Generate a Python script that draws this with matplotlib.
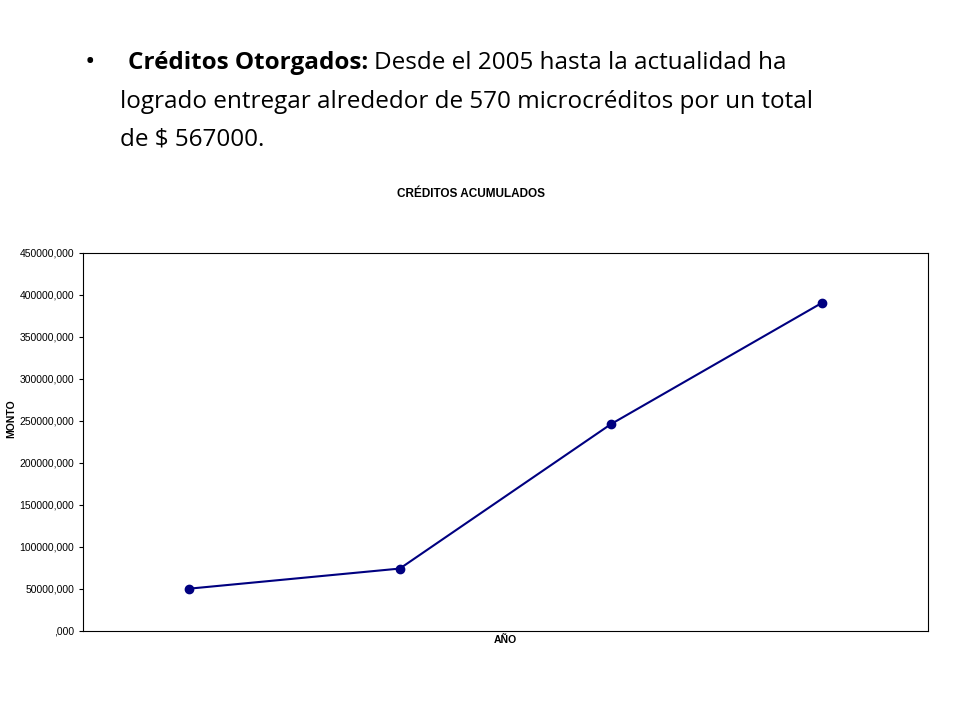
import matplotlib
matplotlib.use("Agg")
from matplotlib import pyplot as plt

# datos
anios = ["2005", "2006", "2007", "2008"]
montos = [50000, 74000, 246000, 390500]
y_ticks = [0, 50000, 100000, 150000, 200000, 250000, 300000, 350000, 400000, 450000]
y_labels = [",000"] + ["%d,000" % v for v in y_ticks[1:]]

fig = plt.figure(figsize=(9.6, 7.2), dpi=100)

# texto del encabezado
fig.text(0.088, 0.912, "\u2022", fontsize=20, family="Open Sans", va="center")
t_bold = fig.text(0.133, 0.912, "Créditos Otorgados:", fontsize=17.5, weight="bold",
                  family="Open Sans", va="center")
fig.canvas.draw()
bb = t_bold.get_window_extent().transformed(fig.transFigure.inverted())
fig.text(bb.x1 + 0.006, 0.912, "Desde el 2005 hasta la actualidad ha",
         fontsize=17.5, family="Open Sans", va="center")
fig.text(0.125, 0.859, "logrado entregar alrededor de 570 microcréditos por un total",
         fontsize=17.5, family="Open Sans", va="center")
fig.text(0.125, 0.806, "de $ 567000.", fontsize=17.5, family="Open Sans", va="center")

fig.text(0.491, 0.731, "CRÉDITOS ACUMULADOS", fontsize=8.5, weight="bold",
         family="Liberation Sans", ha="center", va="center")

ax = fig.add_axes([0.0865, 0.124, 0.880, 0.525])
x = list(range(len(anios)))
ax.plot(x, montos, color="#000080", marker="o", markersize=6, linewidth=1.5)
ax.set_xlim(-0.5, len(anios) - 0.5)
ax.set_ylim(0, 450000)
ax.set_xticks([])
ax.set_yticks(y_ticks)
ax.set_yticklabels(y_labels, fontsize=7.5, family="Liberation Sans")
ax.tick_params(axis="y", length=3)
for s in ax.spines.values():
    s.set_linewidth(0.8)
ax.set_xlabel("AÑO", fontsize=7.5, weight="bold", family="Liberation Sans", labelpad=3)
fig.text(0.012, 0.418, "MONTO", fontsize=7.5, weight="bold", family="Liberation Sans",
         rotation=90, va="center", ha="center")

fig.savefig("out.png", dpi=100)
